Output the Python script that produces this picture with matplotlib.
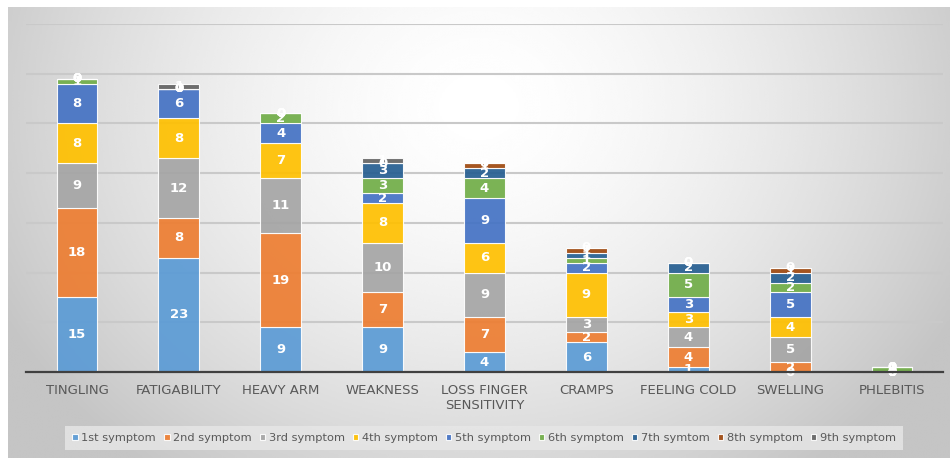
import numpy as np
import matplotlib
matplotlib.use("Agg")
import matplotlib.pyplot as plt

categories = ["TINGLING", "FATIGABILITY", "HEAVY ARM", "WEAKNESS",
              "LOSS FINGER\nSENSITIVITY", "CRAMPS", "FEELING COLD",
              "SWELLING", "PHLEBITIS"]

series_names = ["1st symptom", "2nd symptom", "3rd symptom", "4th symptom",
                "5th symptom", "6th symptom", "7th symtom", "8th symptom",
                "9th symptom"]

s1 = [15, 23, 9, 9, 4, 6, 1, 0, 0]
s2 = [18, 8, 19, 7, 7, 2, 4, 2, 0]
s3 = [9, 12, 11, 10, 9, 3, 4, 5, 0]
s4 = [8, 8, 7, 8, 6, 9, 3, 4, 0]
s5 = [8, 6, 4, 2, 9, 2, 3, 5, 0]
s6 = [1, 0, 2, 3, 4, 1, 5, 2, 1]
s7 = [0, 0, 0, 3, 2, 1, 2, 2, 0]
s8 = [0, 0, 0, 0, 1, 1, 0, 1, 0]
s9 = [0, 1, 0, 1, 0, 0, 0, 0, 0]
series = [s1, s2, s3, s4, s5, s6, s7, s8, s9]

colors = ["#5B9BD5", "#ED7D31", "#A5A5A5", "#FFC000", "#4472C4",
          "#70AD47", "#255E91", "#9E480E", "#636363"]

W, H = 950, 458
fig = plt.figure(figsize=(W / 100, H / 100), dpi=100)
fig.patch.set_facecolor("white")

# soft radial gradient behind the chart area
bg = fig.add_axes([8 / W, 0, 1 - 8 / W, 1 - 7 / H])
bg.set_axis_off()
yy, xx = np.mgrid[0:1:300j, 0:1:600j]
r = np.sqrt(((xx - 0.5) / 0.62) ** 2 + ((yy - 0.78) / 1.1) ** 2)
shade = np.clip(1.0 - 0.26 * r ** 1.6, 0.77, 1.0)
bg.imshow(shade, cmap="gray", vmin=0, vmax=1, extent=[0, 1, 0, 1],
          origin="lower", aspect="auto", interpolation="bicubic")
bg.set_xlim(0, 1)
bg.set_ylim(0, 1)

ax = fig.add_axes([26 / W, (H - 372) / H, (943 - 26) / W, (372 - 24) / H])
ax.set_facecolor("none")
x = np.arange(len(categories))
bottom = np.zeros(len(categories))
for name, vals, c in zip(series_names, series, colors):
    vals = np.array(vals, dtype=float)
    bars = ax.bar(x, vals, 0.4, bottom=bottom, color=c, edgecolor="white",
                  linewidth=0.8, label=name, zorder=3, alpha=0.92)
    ax.bar_label(bars, labels=[f"{int(v)}" for v in vals], label_type="center",
                 color="white", fontsize=9.5, fontweight="bold", zorder=4)
    bottom += vals

ax.set_xlim(-0.5, len(categories) - 0.5)
ax.set_ylim(0, 70)
ax.set_yticks(np.arange(10, 71, 10))
ax.yaxis.grid(True, color="#c9c9c9", linewidth=1.5, zorder=0)
ax.tick_params(axis="y", left=False, labelleft=False)
ax.tick_params(axis="x", bottom=False, pad=5)
ax.set_xticks(x)
ax.set_xticklabels(categories, fontsize=9.5, color="#595959", linespacing=1.25)
for side in ["top", "right", "left"]:
    ax.spines[side].set_visible(False)
ax.spines["bottom"].set_color("#404040")
ax.spines["bottom"].set_linewidth(1.6)
ax.spines["bottom"].set_zorder(5)

handles, labels = ax.get_legend_handles_labels()
leg = fig.legend(handles, labels, loc="center", ncol=9,
                 bbox_to_anchor=(484 / W, (H - 438) / H), fontsize=8.2,
                 frameon=True, handlelength=0.5, handleheight=0.5,
                 handletextpad=0.3, columnspacing=0.7, borderpad=0.6,
                 fancybox=False)
leg.get_frame().set_facecolor("#e7e7e7")
leg.get_frame().set_edgecolor("none")
for t in leg.get_texts():
    t.set_color("#595959")

fig.savefig("out.png", dpi=100)
